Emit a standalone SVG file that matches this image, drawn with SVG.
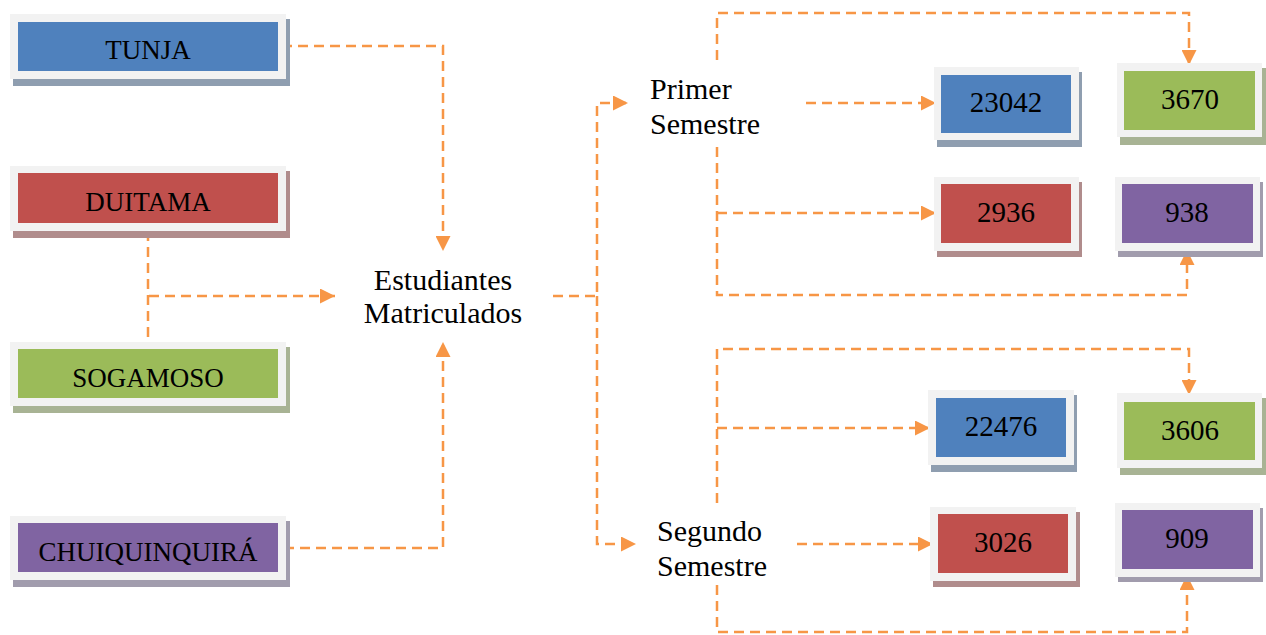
<svg xmlns="http://www.w3.org/2000/svg" width="1266" height="635" viewBox="0 0 1266 635">
<style>
  .frame { fill: #f2f2f2; }
  .blue { fill: #4f81bd; }
  .red { fill: #c0504d; }
  .green { fill: #9bbb59; }
  .purple { fill: #8064a2; }
  .sh-blue { fill: #8f9eb0; }
  .sh-red { fill: #b08c8c; }
  .sh-green { fill: #a8b394; }
  .sh-purple { fill: #a19cad; }
  .lbl { font-family: "Liberation Serif", "Times New Roman", serif; fill: #000; text-anchor: middle; }
  .city { font-size: 27px; }
  .num { font-size: 29px; }
  .free { font-family: "Liberation Serif", "Times New Roman", serif; fill: #000; font-size: 30px; }
  .conn { fill: none; stroke: #f79646; stroke-width: 2.5; stroke-dasharray: 10 6; }
</style>
<defs>
  <marker id="arrow" markerUnits="userSpaceOnUse" markerWidth="16" markerHeight="15" refX="15" refY="7.5" orient="auto">
    <path d="M0,0 L15,7.5 L0,15 z" fill="#f79646"/>
  </marker>
</defs>
<rect width="1266" height="635" fill="#ffffff"/>

<g id="connectors">
  <path class="conn" d="M282,46 H443 V251" marker-end="url(#arrow)"/>
  <path class="conn" d="M148,231 V342"/>
  <path class="conn" d="M149,296 H335" marker-end="url(#arrow)"/>
  <path class="conn" d="M284,548 H443 V342" marker-end="url(#arrow)"/>
  <path class="conn" d="M553,296 H597 V103 H628" marker-end="url(#arrow)"/>
  <path class="conn" d="M597,296 V544 H636" marker-end="url(#arrow)"/>
  <path class="conn" d="M806,103 H936" marker-end="url(#arrow)"/>
  <path class="conn" d="M717,60 V13 H1189 V65" marker-end="url(#arrow)"/>
  <path class="conn" d="M717,147 V295 H1187 V250" marker-end="url(#arrow)"/>
  <path class="conn" d="M717,213 H936" marker-end="url(#arrow)"/>
  <path class="conn" d="M717,503 V349 H1189 V395" marker-end="url(#arrow)"/>
  <path class="conn" d="M717,428 H930" marker-end="url(#arrow)"/>
  <path class="conn" d="M797,544 H933" marker-end="url(#arrow)"/>
  <path class="conn" d="M717,585 V632 H1187 V575" marker-end="url(#arrow)"/>
</g>

<g id="tunja">
  <rect class="sh-blue" x="13" y="19" width="277" height="67"/>
  <rect class="frame" x="10" y="14" width="276" height="65"/>
  <rect class="blue" x="18" y="22" width="260" height="49"/>
  <text class="lbl city" x="148" y="59">TUNJA</text>
</g>
<g id="duitama">
  <rect class="sh-red" x="13" y="171" width="277" height="67"/>
  <rect class="frame" x="10" y="166" width="276" height="65"/>
  <rect class="red" x="18" y="173" width="260" height="50"/>
  <text class="lbl city" x="148" y="211">DUITAMA</text>
</g>
<g id="sogamoso">
  <rect class="sh-green" x="13" y="347" width="277" height="66"/>
  <rect class="frame" x="10" y="342" width="276" height="64"/>
  <rect class="green" x="18" y="349" width="260" height="49"/>
  <text class="lbl city" x="148" y="387">SOGAMOSO</text>
</g>
<g id="chuiquinquira">
  <rect class="sh-purple" x="13" y="521" width="277" height="66"/>
  <rect class="frame" x="10" y="516" width="276" height="64"/>
  <rect class="purple" x="18" y="523" width="260" height="49"/>
  <text class="lbl city" x="148" y="561">CHUIQUINQUIRÁ</text>
</g>

<g id="estudiantes">
  <text class="free" x="443" y="290" text-anchor="middle">Estudiantes</text>
  <text class="free" x="443" y="323" text-anchor="middle">Matriculados</text>
</g>
<g id="primer">
  <text class="free" x="650" y="99">Primer</text>
  <text class="free" x="650" y="134">Semestre</text>
</g>
<g id="segundo">
  <text class="free" x="657" y="541">Segundo</text>
  <text class="free" x="657" y="576">Semestre</text>
</g>

<g id="n23042">
  <rect class="sh-blue" x="937" y="72" width="145" height="75"/>
  <rect class="frame" x="934" y="67" width="145" height="73"/>
  <rect class="blue" x="941" y="75" width="130" height="58"/>
  <text class="lbl num" x="1006" y="112">23042</text>
</g>
<g id="n3670">
  <rect class="sh-green" x="1120" y="68" width="146" height="77"/>
  <rect class="frame" x="1117" y="63" width="145" height="74"/>
  <rect class="green" x="1124" y="71" width="131" height="59"/>
  <text class="lbl num" x="1190" y="109">3670</text>
</g>
<g id="n2936">
  <rect class="sh-red" x="937" y="182" width="145" height="75"/>
  <rect class="frame" x="934" y="177" width="145" height="74"/>
  <rect class="red" x="941" y="184" width="130" height="59"/>
  <text class="lbl num" x="1006" y="222">2936</text>
</g>
<g id="n938">
  <rect class="sh-purple" x="1118" y="182" width="145" height="75"/>
  <rect class="frame" x="1115" y="177" width="145" height="74"/>
  <rect class="purple" x="1122" y="184" width="131" height="59"/>
  <text class="lbl num" x="1187" y="222">938</text>
</g>
<g id="n22476">
  <rect class="sh-blue" x="931" y="395" width="146" height="77"/>
  <rect class="frame" x="928" y="390" width="146" height="75"/>
  <rect class="blue" x="936" y="398" width="130" height="59"/>
  <text class="lbl num" x="1001" y="436">22476</text>
</g>
<g id="n3606">
  <rect class="sh-green" x="1120" y="398" width="146" height="77"/>
  <rect class="frame" x="1117" y="393" width="145" height="75"/>
  <rect class="green" x="1124" y="402" width="131" height="58"/>
  <text class="lbl num" x="1190" y="440">3606</text>
</g>
<g id="n3026">
  <rect class="sh-red" x="933" y="512" width="147" height="75"/>
  <rect class="frame" x="930" y="507" width="146" height="74"/>
  <rect class="red" x="938" y="514" width="130" height="59"/>
  <text class="lbl num" x="1003" y="552">3026</text>
</g>
<g id="n909">
  <rect class="sh-purple" x="1118" y="508" width="145" height="74"/>
  <rect class="frame" x="1115" y="503" width="145" height="74"/>
  <rect class="purple" x="1122" y="510" width="131" height="59"/>
  <text class="lbl num" x="1187" y="548">909</text>
</g>
</svg>
